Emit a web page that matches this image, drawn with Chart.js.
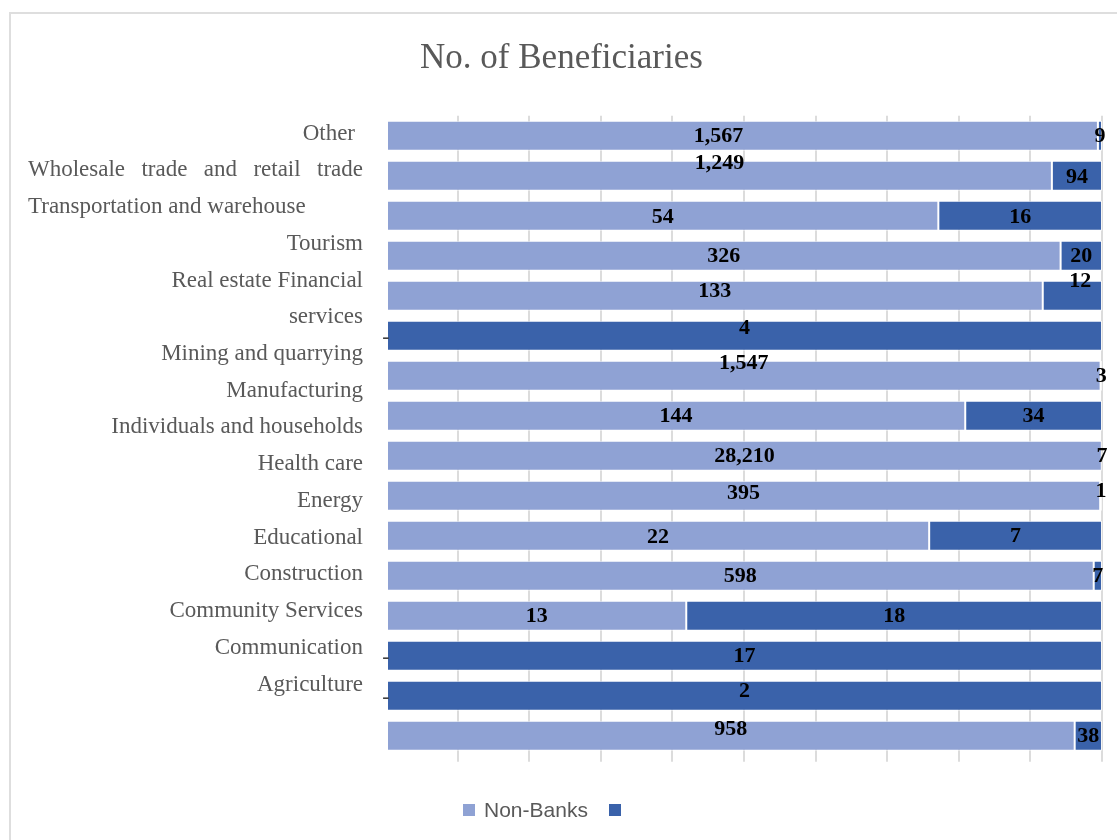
<!DOCTYPE html>
<html>
<head>
<meta charset="utf-8">
<title>No. of Beneficiaries</title>
<script src="https://cdn.jsdelivr.net/npm/chart.js@4.4.1/dist/chart.umd.min.js"></script>
<style>
    html, body { margin: 0; padding: 0; background: #fff; }
    #wrap { position: relative; width: 1117px; height: 840px; overflow: hidden; }
    #frame {
        position: absolute; left: 9px; top: 12px; right: -10px; bottom: -10px;
        border-left: 2px solid #dedede; border-top: 2px solid #dedede;
    }
    #chart { position: absolute; left: 0; top: 0; }
    #title {
        position: absolute; left: 0; top: 39px; width: 1123px;
        text-align: center; font: 35px/35px "Liberation Serif", serif; color: #595959;
    }
    #side {
        position: absolute; left: 28px; top: 114.6px; width: 335px;
        font: 23px/36.73px "Liberation Serif", serif; color: #595959;
    }
    #side div { text-align: right; white-space: nowrap; }
    #side div.first { padding-right: 8px; }
    #side div.wide { text-align: justify; text-align-last: justify; white-space: normal; }
    #side div.left { text-align: left; }
    #legend {
        position: absolute; left: 463px; top: 800px; height: 20px;
        display: flex; align-items: center;
        font: 21px/20px "Liberation Sans", Arial, sans-serif; color: #595959;
    }
    #legend .sw { width: 12px; height: 12px; margin-right: 9px; }
    #legend .txt { margin-right: 21px; }
</style>
</head>
<body>
<div id="wrap">
    <div id="frame"></div>
    <canvas id="chart" width="1117" height="840"></canvas>
    <div id="title">No. of Beneficiaries</div>
    <div id="side"></div>
    <div id="legend"></div>
</div>
<script>
// Beneficiaries by sector, split between non-bank and bank lenders
const categories = [
    'Other', 'Wholesale trade and retail trade', 'Transportation and warehouse', 'Tourism',
    'Real estate', 'Financial services', 'Mining and quarrying', 'Manufacturing',
    'Individuals and households', 'Health care', 'Energy', 'Educational',
    'Construction', 'Community Services', 'Communication', 'Agriculture'
];
const nonBanks = [1567, 1249, 54, 326, 133, 0, 1547, 144, 28210, 395, 22, 598, 13, 0, 0, 958];
const banks = [9, 94, 16, 20, 12, 4, 3, 34, 7, 1, 7, 7, 18, 17, 2, 38];
const seriesNames = ['Non-Banks', ''];
const seriesColors = ['#8fa2d4', '#3a62aa'];
const xTicks = { min: 0, max: 100, step: 10 };

// hand-placed labels: key is "dataset-index", value is [dx, dy] in px
const labelNudge = {
    '0-0': [-24, 1], '0-1': [0, -12], '0-2': [0, 2], '0-4': [0, -4], '0-6': [0, -12],
    '0-9': [0, -2], '0-10': [0, 2], '0-15': [0, -6],
    '1-1': [0, 2], '1-2': [0, 2], '1-4': [8, -14], '1-5': [0, -7], '1-9': [0, -4], '1-14': [0, -4]
};

const rawSeries = [nonBanks, banks];
const totals = nonBanks.map((v, i) => v + banks[i]);
const toShare = arr => arr.map((v, i) => v / totals[i] * 100);

// value labels drawn on top of each segment ("-" for empty ones)
const segmentLabels = {
    id: 'segmentLabels',
    afterDatasetsDraw(chart) {
        const ctx = chart.ctx;
        ctx.save();
        ctx.textAlign = 'center';
        ctx.textBaseline = 'middle';
        chart.data.datasets.forEach((ds, di) => {
            chart.getDatasetMeta(di).data.forEach((bar, i) => {
                const raw = rawSeries[di][i];
                const nudge = labelNudge[di + '-' + i] || [0, 1];
                const x = (bar.x + bar.base) / 2 + nudge[0];
                const y = bar.y + nudge[1];
                if (raw === 0) {
                    ctx.font = '22px "Liberation Serif", serif';
                    ctx.fillStyle = '#404040';
                    ctx.fillText('-', x, y + 1);
                } else {
                    ctx.font = 'bold 22px "Liberation Serif", serif';
                    ctx.fillStyle = '#000';
                    ctx.fillText(raw.toLocaleString('en-US'), x, y);
                }
            });
        });
        ctx.restore();
    }
};

function renderSide() {
    const side = document.getElementById('side');
    const lines = [...categories];
    // the two finance rows share one wrapped cell
    lines.splice(4, 2, 'Real estate Financial', 'services');
    side.innerHTML = lines.map((t, i) => {
        const cls = i === 0 ? 'first' : (i === 1 ? 'wide' : (i === 2 ? 'left' : ''));
        return `<div class="${cls}">${t}</div>`;
    }).join('');
}

function renderLegend() {
    const legend = document.getElementById('legend');
    legend.innerHTML = seriesNames.map((name, i) =>
        `<span class="sw" style="background:${seriesColors[i]}"></span>` +
        (name ? `<span class="txt">${name}</span>` : '')
    ).join('');
}

function renderChart() {
    const ctx = document.getElementById('chart').getContext('2d');
    new Chart(ctx, {
        type: 'bar',
        data: {
            labels: categories,
            datasets: rawSeries.map((arr, i) => ({
                label: seriesNames[i],
                data: toShare(arr),
                backgroundColor: seriesColors[i],
                borderColor: 'rgba(255,255,255,0.75)',
                borderWidth: 1,
                borderSkipped: false,
                categoryPercentage: 1,
                barPercentage: 0.75
            }))
        },
        options: {
            indexAxis: 'y',
            responsive: false,
            animation: false,
            devicePixelRatio: 1,
            layout: { padding: { left: 386, right: 15, top: 115.7, bottom: 78.3 } },
            plugins: { legend: { display: false }, tooltip: { enabled: false } },
            scales: {
                x: {
                    stacked: true,
                    min: xTicks.min,
                    max: xTicks.max,
                    ticks: { display: false, stepSize: xTicks.step },
                    border: { display: false },
                    grid: {
                        color: c => c.index === 0 ? 'rgba(0,0,0,0)' : '#dcdcdc',
                        lineWidth: 2,
                        drawTicks: true,
                        tickLength: 6
                    }
                },
                y: { stacked: true, display: false }
            }
        },
        plugins: [segmentLabels]
    });
}

document.addEventListener('DOMContentLoaded', () => {
    renderSide();
    renderLegend();
    renderChart();
});
</script>
</body>
</html>
